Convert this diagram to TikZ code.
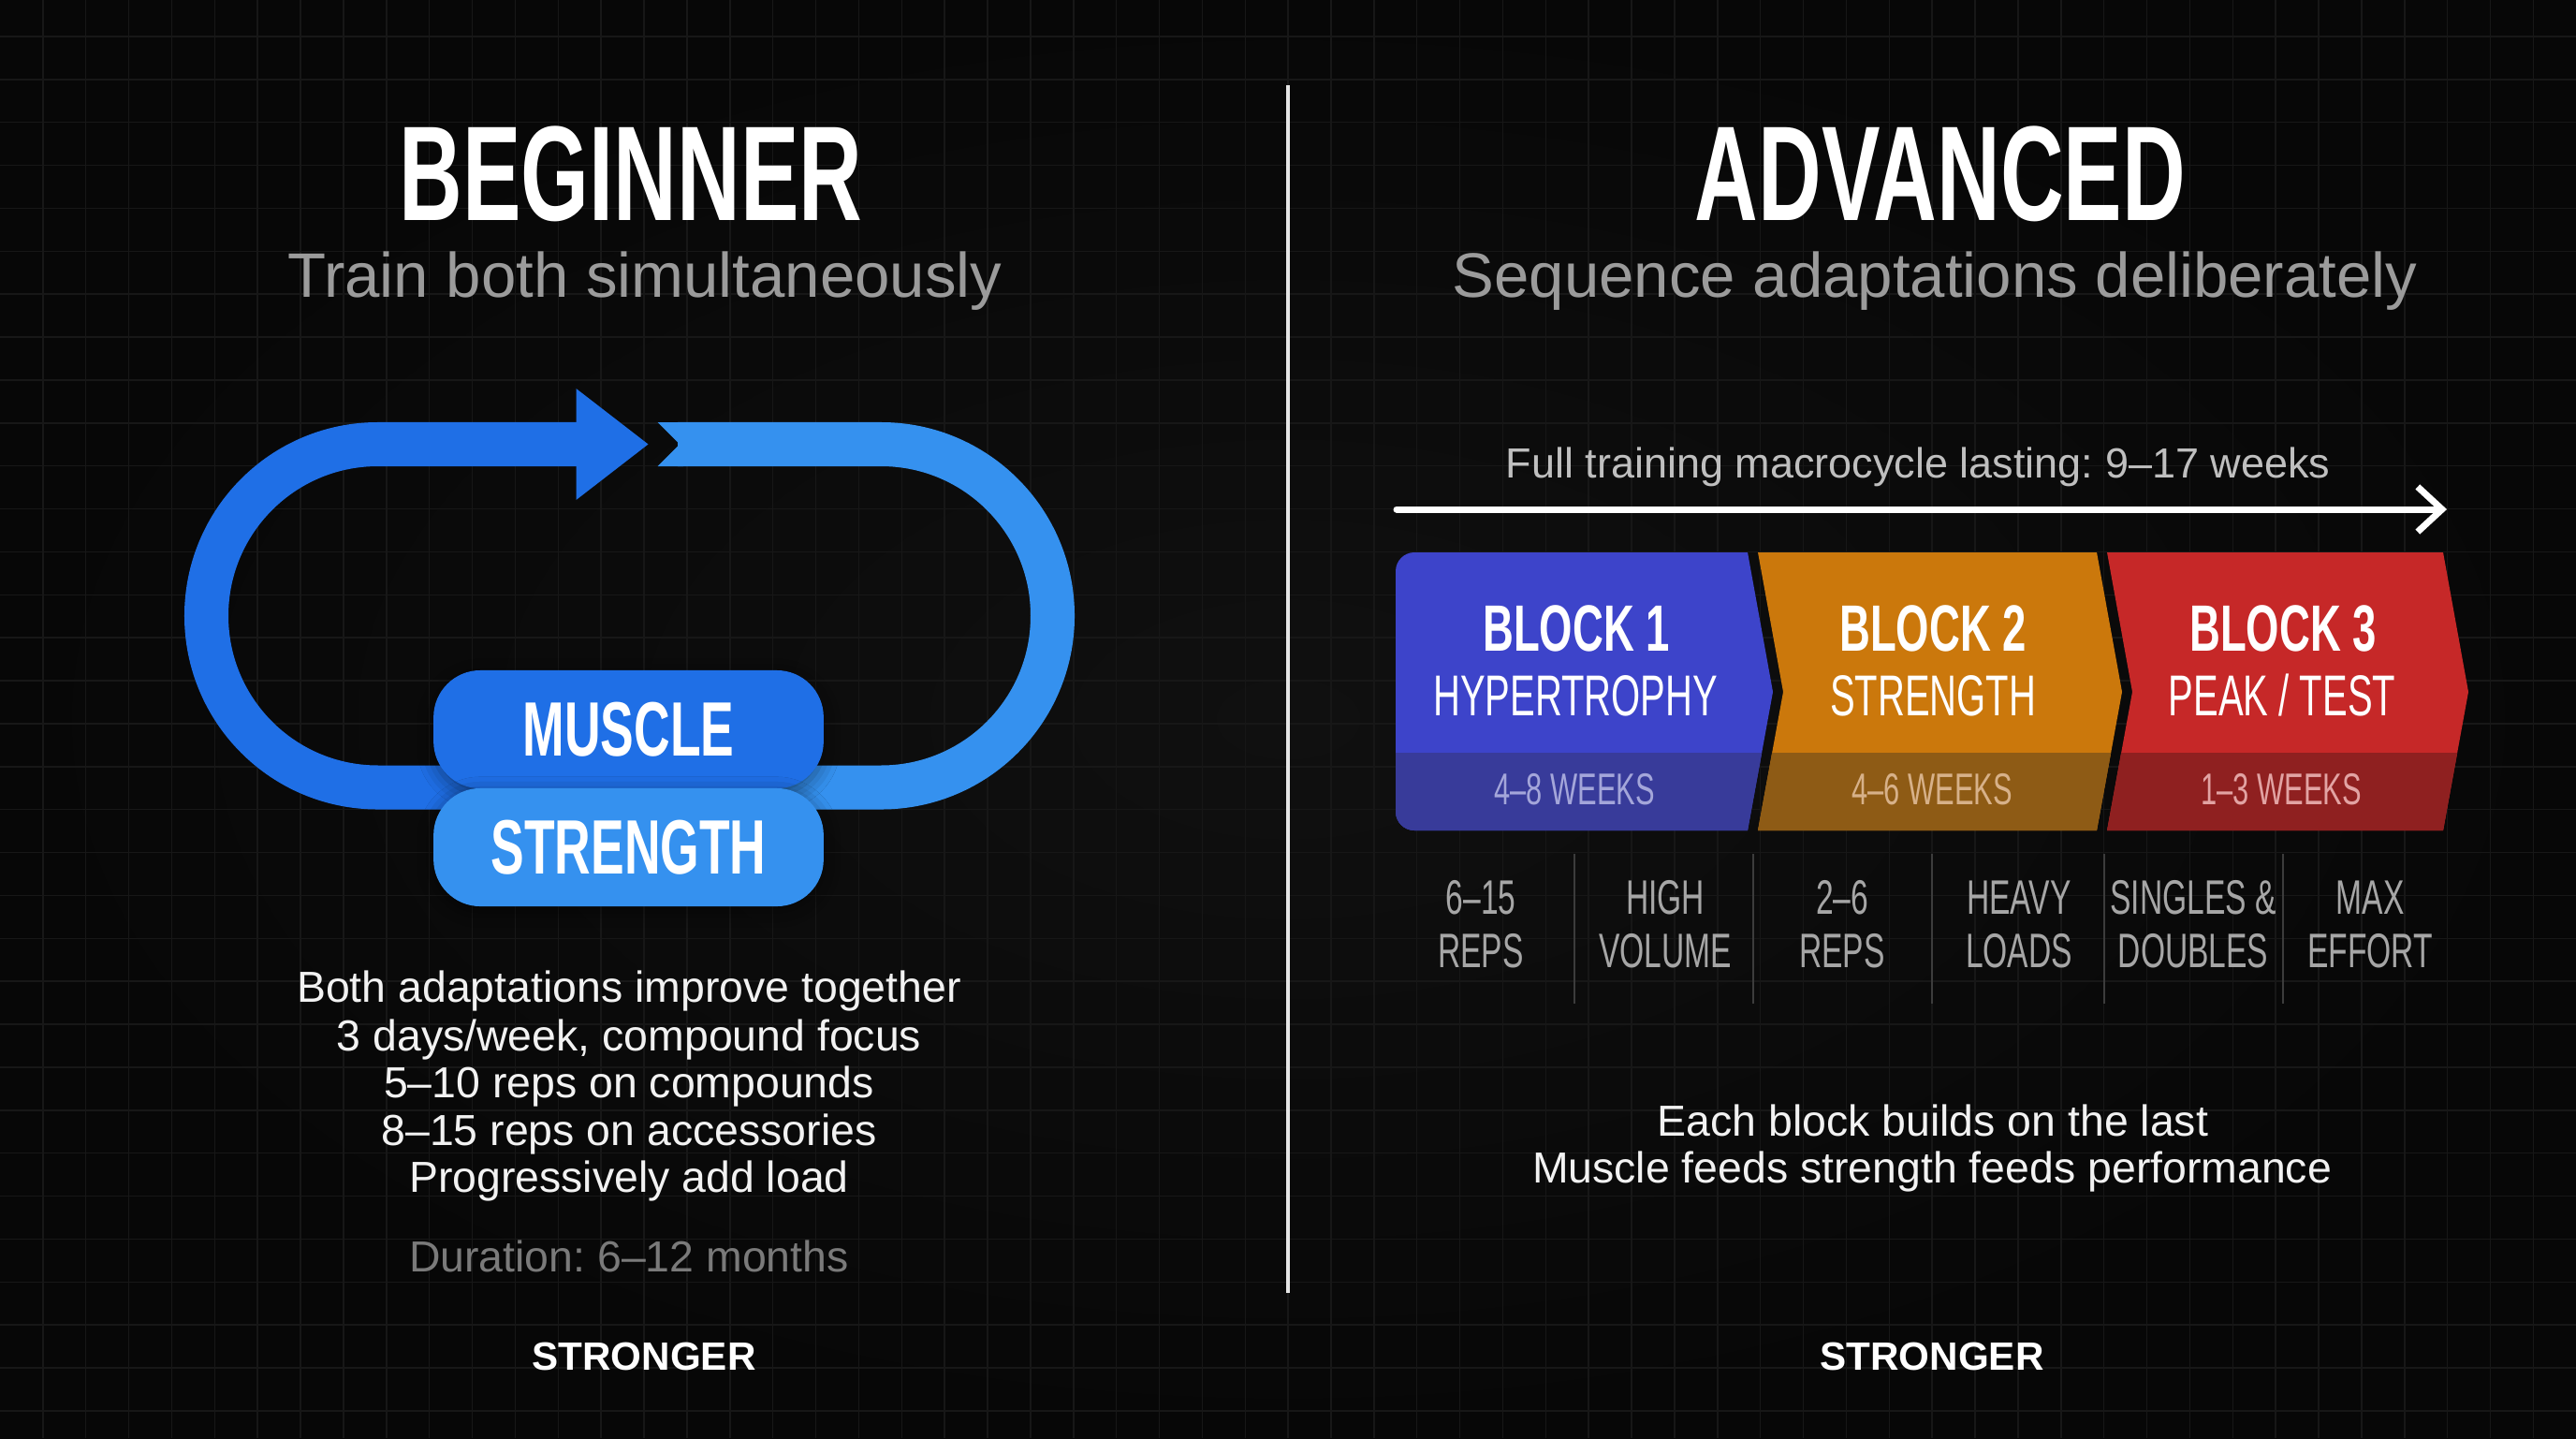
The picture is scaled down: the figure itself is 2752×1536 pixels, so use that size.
\documentclass[tikz,border=0pt]{standalone}
\usepackage{fontspec}
\setmainfont{Liberation Sans}
\newfontfamily\narrowfont[FakeStretch=0.65]{Liberation Sans}
\usetikzlibrary{arrows.meta,shadows.blur}
\frenchspacing

\definecolor{bgin}{HTML}{101010}
\definecolor{bgout}{HTML}{070707}
\definecolor{gridcol}{HTML}{171717}
\definecolor{loopdark}{HTML}{1F6FE6}
\definecolor{looplight}{HTML}{3591EF}
\definecolor{subgray}{HTML}{9B9B9B}
\definecolor{durgray}{HTML}{7A7A7A}
\definecolor{lblgray}{HTML}{A6A6A6}
\definecolor{sepgray}{HTML}{3C3C3C}
\definecolor{bodywhite}{HTML}{F2F2F2}
\definecolor{hypmain}{HTML}{3D44CA}
\definecolor{hypband}{HTML}{383B9A}
\definecolor{hyptext}{HTML}{A4A6DA}
\definecolor{strmain}{HTML}{CB780C}
\definecolor{strband}{HTML}{8E5B15}
\definecolor{strtext}{HTML}{D7B189}
\definecolor{pkmain}{HTML}{C62828}
\definecolor{pkband}{HTML}{8F2020}
\definecolor{pktext}{HTML}{E2A3A3}

\begin{document}
\begin{tikzpicture}[
  x=0.01cm, y=-0.01cm,
  headline/.style={anchor=base, text=white,
                   font=\narrowfont\bfseries\fontsize{41}{41}\selectfont},
  subline/.style={anchor=base, text=subgray, font=\fontsize{19.1}{22}\selectfont},
  bodyline/.style={anchor=base, text=bodywhite, font=\fontsize{13.2}{15}\selectfont},
  footer/.style={anchor=base, text=white, font=\bfseries\fontsize{12}{14}\selectfont},
  pill/.style={rounded corners=0.5cm, minimum width=4.165cm, minimum height=1.26cm,
               inner sep=0pt, text=white,
               font=\narrowfont\bfseries\fontsize{23.4}{24}\selectfont,
               blur shadow={shadow xshift=0pt, shadow yshift=-1.5pt,
                            shadow blur radius=5pt, shadow opacity=45}},
  loopline/.style={line width=0.47cm, rounded corners=1.83cm},
  blocktitle/.style={anchor=base, text=white,
                     font=\narrowfont\bfseries\fontsize{19.9}{20}\selectfont},
  blockname/.style={anchor=base, text=white, font=\narrowfont\fontsize{17.5}{18}\selectfont},
  blockweeks/.style={anchor=base, font=\narrowfont\fontsize{13.5}{14}\selectfont},
  repslabel/.style={align=center, text=lblgray, inner sep=0pt,
                    font=\narrowfont\fontsize{14.7}{16.2}\selectfont},
  separator/.style={sepgray, line width=0.02cm},
  gridline/.style={gridcol, line width=0.015cm},
  timeline/.style={white, line width=0.07cm, line cap=round,
                   -{Straight Barb[length=0.26cm, width=0.48cm]}},
  divider/.style={white!90!black, line width=0.033cm}
]

% --- Background ---
\useasboundingbox (0,0) rectangle (2752,1536);
\shade[inner color=bgin, outer color=bgout] (0,0) rectangle (2752,1536);
\foreach \k in {1,...,59}
  \draw[gridline] (\k*45.87,0) -- (\k*45.87,1536);
\foreach \k in {0,...,32}
  \draw[gridline] (0,39+\k*45.87) -- (2752,39+\k*45.87);

\draw[divider] (1376,91) -- (1376,1381);

% --- Beginner ---
\node[headline] (beginner) at (674,235) {BEGINNER};
\node[subline] (beg-sub) at (689,317) {Train both simultaneously};

% loop arrow
\draw[loopline, loopdark] (618,474.5) -- (220.5,474.5) -- (220.5,841) -- (690,841);
\draw[loopline, looplight] (724,474.5) -- (1124.5,474.5) -- (1124.5,841) -- (660,841);
\fill[looplight] (702.6,451) -- (730,451) -- (730,498) -- (702.6,498)
      -- (726,474.5) -- cycle;
\fill[loopdark] (615.5,415) -- (692.5,474.5) -- (615.5,534) -- cycle;

\node[pill, fill=loopdark] (muscle) at (671.5,779) {MUSCLE};
\node[pill, fill=looplight] (strength) at (671.5,905) {STRENGTH};

\node[bodyline] (beg-l1) at (672,1070) {Both adaptations improve together};
\node[bodyline] (beg-l2) at (672,1122) {3 days/week, compound focus};
\node[bodyline] (beg-l3) at (672,1172) {5–10 reps on compounds};
\node[bodyline] (beg-l4) at (672,1223) {8–15 reps on accessories};
\node[bodyline] (beg-l5) at (672,1273) {Progressively add load};
\node[bodyline, text=durgray] (beg-dur) at (672,1358) {Duration: 6–12 months};
\node[footer] (beg-brand) at (688,1463) {STRONGER};

% --- Advanced ---
\node[headline] (advanced) at (2073,235) {ADVANCED};
\node[subline] (adv-sub) at (2067,317) {Sequence adaptations deliberately};

\node[bodyline, text=white!75!black, font=\fontsize{12.8}{15}\selectfont]
      (macro) at (2049,510) {Full training macrocycle lasting: 9–17 weeks};
\coordinate (tl-start) at (1492,544);
\coordinate (tl-end) at (2614,544);
\draw[timeline] (tl-start) -- (tl-end);

% block 1
\begin{scope}
  \clip (1867,590) -- (1894,739) -- (1867,887) -- (1700,887)
        [rounded corners=0.2cm] -- (1491,887) -- (1491,590) -- (1700,590)
        [sharp corners] -- cycle;
  \fill[hypmain] (1480,580) rectangle (1910,900);
  \fill[hypband] (1480,804) rectangle (1910,900);
\end{scope}
% block 2
\begin{scope}
  \clip (1878,590) -- (2240,590) -- (2267,739) -- (2240,887) -- (1878,887)
        -- (1905,739) -- cycle;
  \fill[strmain] (1870,580) rectangle (2280,900);
  \fill[strband] (1870,804) rectangle (2280,900);
\end{scope}
% block 3
\begin{scope}
  \clip (2251,590) -- (2610,590) -- (2637,739) -- (2610,887) -- (2251,887)
        -- (2278,739) -- cycle;
  \fill[pkmain] (2240,580) rectangle (2650,900);
  \fill[pkband] (2240,804) rectangle (2650,900);
\end{scope}

\node[blocktitle] (b1-title) at (1684,695) {BLOCK 1};
\node[blockname] (b1-name) at (1683,764) {HYPERTROPHY};
\node[blockweeks, text=hyptext] (b1-weeks) at (1682,859) {4–8 WEEKS};
\node[blocktitle] (b2-title) at (2065,695) {BLOCK 2};
\node[blockname] (b2-name) at (2065,764) {STRENGTH};
\node[blockweeks, text=strtext] (b2-weeks) at (2064,859) {4–6 WEEKS};
\node[blocktitle] (b3-title) at (2439,695) {BLOCK 3};
\node[blockname] (b3-name) at (2438,764) {PEAK / TEST};
\node[blockweeks, text=pktext] (b3-weeks) at (2437,859) {1–3 WEEKS};

% what each block trains
\foreach \sx in {1682,1873,2064,2247.5,2439}
  \draw[separator] (\sx,912) -- (\sx,1072);
\node[repslabel] (reps1) at (1582,987) {6–15\\REPS};
\node[repslabel] (vol1) at (1779,987) {HIGH\\VOLUME};
\node[repslabel] (reps2) at (1968,987) {2–6\\REPS};
\node[repslabel] (loads2) at (2157,987) {HEAVY\\LOADS};
\node[repslabel] (singles3) at (2343,987) {SINGLES \&\\DOUBLES};
\node[repslabel] (effort3) at (2532,987) {MAX\\EFFORT};

\node[bodyline] (adv-l1) at (2065,1213) {Each block builds on the last};
\node[bodyline] (adv-l2) at (2064,1263) {Muscle feeds strength feeds performance};
\node[footer] (adv-brand) at (2064,1463) {STRONGER};

\end{tikzpicture}
\end{document}
